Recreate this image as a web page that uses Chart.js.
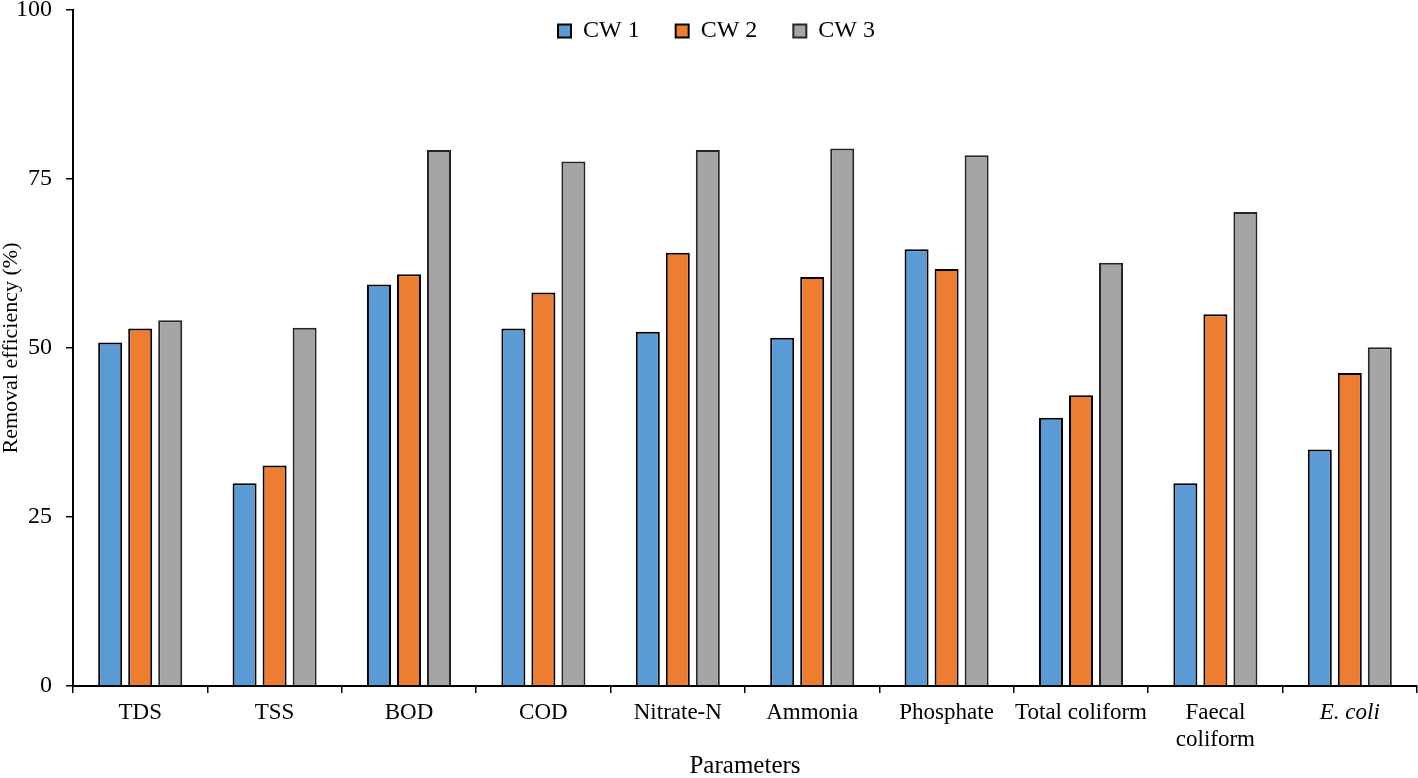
<!DOCTYPE html>
<html>
<head>
<meta charset="utf-8">
<script src="https://cdn.jsdelivr.net/npm/chart.js@4/dist/chart.umd.min.js"></script>
<style>
  html, body { margin: 0; padding: 0; background: #fff; }
  #wrap { width: 1418px; height: 778px; position: relative; }
</style>
</head>
<body>
<div id="wrap"><canvas id="chart"></canvas></div>
<script>
// categories and series (removal efficiency, %)
const parameters = ['TDS', 'TSS', 'BOD', 'COD', 'Nitrate-N', 'Ammonia', 'Phosphate', 'Total coliform', ['Faecal', 'coliform'], 'E. coli'];
const cw1 = [50.8, 30.0, 59.4, 52.9, 52.4, 51.5, 64.6, 39.7, 30.0, 35.0];
const cw2 = [52.9, 32.6, 60.9, 58.2, 64.1, 60.5, 61.7, 43.0, 55.0, 46.3];
const cw3 = [54.1, 53.0, 79.3, 77.6, 79.3, 79.5, 78.5, 62.6, 70.1, 50.1];
const yTicks = [0, 25, 50, 75, 100];

const serif = "'Liberation Serif', 'Times New Roman', serif";

// legend floats over the top of the plot instead of taking its own row
const floatingLegend = {
    id: 'floatingLegend',
    afterInit(chart) {
        const lg = chart.legend;
        if (!lg) return;
        const fit = lg.fit;
        lg.fit = function () {
            fit.call(this);
            this._fullHeight = this.height;
            this.height = 0;
        };
    },
    afterLayout(chart) {
        const lg = chart.legend;
        if (!lg) return;
        lg.top -= 27;
        lg.height = lg._fullHeight;
        lg.bottom = lg.top + lg.height;
        lg.left += 8;
        lg.right += 8;
    }
};

new Chart(document.getElementById('chart'), {
    type: 'bar',
    data: {
        labels: parameters,
        datasets: [
            { label: 'CW 1', data: cw1, backgroundColor: '#5B9BD5', borderColor: '#000', borderWidth: 2 },
            { label: 'CW 2', data: cw2, backgroundColor: '#ED7D31', borderColor: '#000', borderWidth: 2 },
            { label: 'CW 3', data: cw3, backgroundColor: '#A5A5A5', borderColor: '#262626', borderWidth: 2 }
        ]
    },
    options: {
        responsive: true,
        maintainAspectRatio: false,
        animation: false,
        categoryPercentage: 0.67,
        barPercentage: 0.8,
        layout: { padding: { top: 0, right: 1, left: 0, bottom: 0 } },
        plugins: {
            legend: {
                position: 'top',
                align: 'center',
                labels: {
                    color: '#000',
                    boxWidth: 13,
                    boxHeight: 13,
                    padding: 36,
                    font: { family: serif, size: 24 }
                }
            },
            tooltip: { enabled: false }
        },
        scales: {
            x: {
                afterFit: scale => { scale.height = 92; },
                grid: { drawOnChartArea: false, color: '#000', lineWidth: 1.5, tickLength: 7, offset: true },
                border: { color: '#000', width: 2 },
                ticks: {
                    color: '#000',
                    padding: 6,
                    maxRotation: 0,
                    autoSkip: false,
                    font: ctx => ({
                        family: serif,
                        size: 23,
                        lineHeight: 1.2,
                        style: ctx.index === parameters.length - 1 ? 'italic' : 'normal'
                    })
                },
                title: {
                    display: true,
                    text: 'Parameters',
                    color: '#000',
                    padding: { top: 0, bottom: 0 },
                    font: { family: serif, size: 25, lineHeight: 0.9 }
                }
            },
            y: {
                min: 0,
                max: 100,
                afterFit: scale => {
                    scale.width = 73;
                    scale.paddingTop = 10;
                    scale.paddingBottom = 0;
                },
                afterBuildTicks: scale => { scale.ticks = yTicks.map(v => ({ value: v })); },
                grid: { drawOnChartArea: false, color: '#000', lineWidth: 1.5, tickLength: 7 },
                border: { color: '#000', width: 2 },
                ticks: {
                    color: '#000',
                    padding: 14,
                    font: { family: serif, size: 24 }
                },
                title: {
                    display: true,
                    text: 'Removal efficiency (%)',
                    color: '#000',
                    padding: { top: 0, bottom: 0 },
                    font: { family: serif, size: 22, lineHeight: 1 }
                }
            }
        }
    },
    plugins: [floatingLegend]
});
</script>
</body>
</html>
